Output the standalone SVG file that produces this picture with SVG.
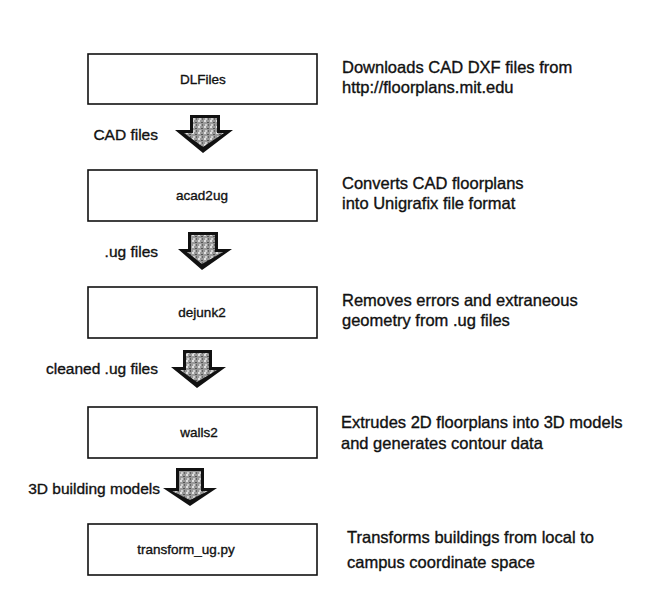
<svg xmlns="http://www.w3.org/2000/svg" width="660" height="607" viewBox="0 0 660 607">
<defs>
<style>
.box{fill:#fff;stroke:#111;stroke-width:1.6}
.t{font-family:"Liberation Sans",Arial,sans-serif;fill:#111;stroke:#111;stroke-width:0.35}
.bl{font-size:13.5px;text-anchor:middle}
.lb{font-size:15.5px;text-anchor:end}
.ds{font-size:16.5px}
.arrO{fill:#111}
.arrI{fill:url(#spk)}
</style>
<pattern id="spk" width="6" height="6" patternUnits="userSpaceOnUse">
<rect width="6" height="6" fill="#9a9a9a"/>
<rect x="0" y="0" width="2" height="2" fill="#e0e0e0"/>
<rect x="3" y="2" width="2" height="1" fill="#555"/>
<rect x="1" y="4" width="2" height="2" fill="#cfcfcf"/>
<rect x="4" y="4" width="1" height="2" fill="#666"/>
</pattern>
</defs>
<rect width="660" height="607" fill="#fff"/>

<g id="connectors">
<g id="arrow1">
<polygon class="arrO" points="190,115 220,115 220,130 233,130 203,153 175,130 190,130"/>
<polygon class="arrI" points="193,118 217,118 217,133 224,133 203,147 184,133 193,133"/>
<text class="t lb" x="158" y="140">CAD files</text>
</g>
<g id="arrow2">
<polygon class="arrO" points="188,232 218,232 218,249 232,249 202,270 178,249 188,249"/>
<polygon class="arrI" points="191,235 215,235 215,252 223,252 202,264 187,252 191,252"/>
<text class="t lb" x="158" y="257">.ug files</text>
</g>
<g id="arrow3">
<polygon class="arrO" points="183,350 212,350 212,367 226,367 197,388 171,367 183,367"/>
<polygon class="arrI" points="186,353 209,353 209,370 217,370 197,382 180,370 186,370"/>
<text class="t lb" x="158" y="374">cleaned .ug files</text>
</g>
<g id="arrow4">
<polygon class="arrO" points="176,468 204,468 204,488 217,488 190,506 163,488 176,488"/>
<polygon class="arrI" points="179,471 201,471 201,491 208,491 190,500 172,491 179,491"/>
<text class="t lb" x="160" y="494">3D building models</text>
</g>
</g>

<g id="n1">
<rect class="box" x="88" y="54" width="229" height="50"/>
<text class="t bl" x="203" y="84">DLFiles</text>
<text class="t ds" x="342" y="73">Downloads CAD DXF files from</text>
<text class="t ds" x="342" y="93">http://floorplans.mit.edu</text>
</g>
<g id="n2">
<rect class="box" x="88" y="170" width="229" height="51"/>
<text class="t bl" x="202" y="200">acad2ug</text>
<text class="t ds" x="342" y="189">Converts CAD floorplans</text>
<text class="t ds" x="342" y="209">into Unigrafix file format</text>
</g>
<g id="n3">
<rect class="box" x="88" y="287" width="229" height="51"/>
<text class="t bl" x="202" y="317">dejunk2</text>
<text class="t ds" x="342" y="306">Removes errors and extraneous</text>
<text class="t ds" x="342" y="326">geometry from .ug files</text>
</g>
<g id="n4">
<rect class="box" x="88" y="407" width="229" height="51"/>
<text class="t bl" x="199" y="437">walls2</text>
<text class="t ds" x="341" y="428">Extrudes 2D floorplans into 3D models</text>
<text class="t ds" x="341" y="449">and generates contour data</text>
</g>
<g id="n5">
<rect class="box" x="88" y="524" width="229" height="51"/>
<text class="t bl" x="186" y="554">transform_ug.py</text>
<text class="t ds" x="347" y="543">Transforms buildings from local to</text>
<text class="t ds" x="347" y="568">campus coordinate space</text>
</g>
</svg>
